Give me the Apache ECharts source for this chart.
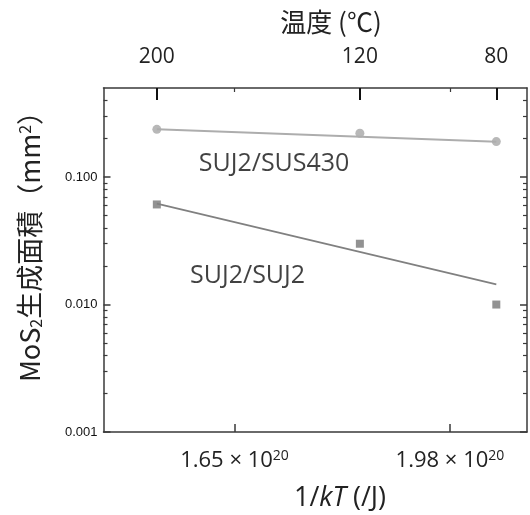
<!DOCTYPE html>
<html>
<head>
<meta charset="utf-8">
<script src="https://cdn.jsdelivr.net/npm/echarts@6/dist/echarts.min.js"></script>
<style>
html,body{margin:0;padding:0;background:#fff;}
#c{width:530px;height:515px;}
</style>
</head>
<body>
<div id="c"></div>
<script>
// 1/kT values (units of 1e20 /J) for the measured temperatures
const invKT = [1.531, 1.842, 2.051];
const tempLabels = ['200', '120', '80'];
// MoS2 area (mm^2)
const sus430 = [0.237, 0.221, 0.190];
const suj2 = [0.061, 0.030, 0.0100];
// fitted lines (end points)
const fitX = [1.531, 2.051];
const fitSus430 = [0.237, 0.189];
const fitSuj2 = [0.0619, 0.0144];
// axis ticks
const xTicks = [1.65, 1.98];
const yMajor = [0.001, 0.01, 0.1];
const yMinor = [0.002,0.003,0.004,0.005,0.006,0.007,0.008,0.009,
                0.02,0.03,0.04,0.05,0.06,0.07,0.08,0.09,
                0.2,0.3,0.4];
// annotations
const annoText = ['SUJ2/SUS430', 'SUJ2/SUJ2'];
const annoX = [1.7106, 1.670];
const annoY = [0.126, 0.0168];

const FONT = '"Open Sans", "Noto Sans", sans-serif';
const CJK = '"Noto Sans CJK JP", "Noto Sans", sans-serif';
const AX = '#3a3a3a';

const chart = echarts.init(document.getElementById('c'), null, {renderer: 'canvas', width: 530, height: 515});

const xMin = 1.4493, xMax = 2.098;
const yMin = 0.001, yMax = 0.5;
const frameLine = {show: true, onZero: false, lineStyle: {color: AX, width: 1.5}};

const logAxisBase = {type: 'log', logBase: 10, min: yMin, max: yMax, splitLine: {show: false}, scale: true};

const option = {
  animation: false,
  backgroundColor: '#fff',
  grid: {left: 103.5, top: 88, width: 423.5, height: 344, containLabel: false},
  graphic: [
    {
      type: 'text', x: 331, y: 22,
      style: {text: '温度 (℃)', fontFamily: CJK, fontSize: 26, fill: '#222', align: 'center', verticalAlign: 'middle'}
    },
    {
      type: 'text', x: 340, y: 498,
      style: {
        text: '{t|1/}{i|kT}{t| (/J)}', align: 'center', verticalAlign: 'middle',
        rich: {
          t: {fontFamily: FONT, fontSize: 27, fill: '#222'},
          i: {fontFamily: FONT, fontSize: 27, fill: '#222', fontStyle: 'italic'}
        }
      }
    },
    {
      type: 'text', x: 30, y: 240, rotation: Math.PI / 2,
      style: {
        text: '{t|MoS}{sub|2}{t|生成面積（mm}{sup|2}{t|）}', align: 'center', verticalAlign: 'middle',
        rich: {
          t: {fontFamily: CJK, fontSize: 27, fill: '#222'},
          sub: {fontFamily: CJK, fontSize: 16, fill: '#222', verticalAlign: 'bottom', padding: [10,0,0,0]},
          sup: {fontFamily: CJK, fontSize: 16, fill: '#222', verticalAlign: 'top', padding: [0,0,10,0]}
        }
      }
    }
  ],
  xAxis: [
    {
      type: 'value', position: 'bottom', min: xMin, max: xMax,
      axisLine: frameLine,
      splitLine: {show: false},
      axisTick: {show: true, inside: true, length: 8, customValues: xTicks, lineStyle: {color: AX, width: 1.5}},
      axisLabel: {
        customValues: xTicks, margin: 17,
        formatter: v => '{n|' + v.toFixed(2) + ' × 10}{sup|20}',
        rich: {
          n: {fontFamily: FONT, fontSize: 22, color: '#222'},
          sup: {fontFamily: FONT, fontSize: 14, color: '#222', verticalAlign: 'top', padding: [0,0,9,0]}
        }
      }
    },
    {
      type: 'value', position: 'top', min: xMin, max: xMax,
      axisLine: frameLine,
      splitLine: {show: false},
      axisTick: {show: true, inside: true, length: 12, customValues: invKT, lineStyle: {color: '#111', width: 2}},
      axisLabel: {
        customValues: invKT, margin: 20,
        fontFamily: FONT, fontSize: 21, color: '#222',
        formatter: v => {
          let bi = 0, bd = Infinity;
          invKT.forEach((x, i) => { const d = Math.abs(x - v); if (d < bd) { bd = d; bi = i; } });
          return tempLabels[bi];
        }
      }
    },
    {
      type: 'value', position: 'top', min: xMin, max: xMax,
      axisLine: {show: false}, splitLine: {show: false},
      axisTick: {show: true, inside: true, length: 4, customValues: xTicks, lineStyle: {color: AX, width: 1.2}},
      axisLabel: {show: false}
    }
  ],
  yAxis: [
    Object.assign({}, logAxisBase, {
      position: 'left',
      axisLine: frameLine,
      axisTick: {show: true, inside: true, length: 7, customValues: yMajor, lineStyle: {color: AX, width: 1.5}},
      axisLabel: {
        customValues: yMajor, margin: 6,
        fontFamily: '"Liberation Sans Narrow", "Liberation Sans", sans-serif', fontSize: 13, color: '#111',
        formatter: v => v.toFixed(3)
      }
    }),
    Object.assign({}, logAxisBase, {
      position: 'left',
      axisLine: {show: false},
      axisTick: {show: true, inside: true, length: 4, customValues: yMinor, lineStyle: {color: AX, width: 1.2}},
      axisLabel: {show: false}
    }),
    Object.assign({}, logAxisBase, {
      position: 'right',
      axisLine: frameLine,
      axisTick: {show: true, inside: true, length: 7, customValues: yMajor, lineStyle: {color: AX, width: 1.5}},
      axisLabel: {show: false}
    }),
    Object.assign({}, logAxisBase, {
      position: 'right',
      axisLine: {show: false},
      axisTick: {show: true, inside: true, length: 4, customValues: yMinor, lineStyle: {color: AX, width: 1.2}},
      axisLabel: {show: false}
    })
  ],
  series: [
    {
      type: 'line', xAxisIndex: 0, yAxisIndex: 0,
      data: fitX.map((x, i) => [x, fitSus430[i]]),
      showSymbol: false, symbol: 'none',
      lineStyle: {color: '#adadad', width: 2}, silent: true
    },
    {
      type: 'line', xAxisIndex: 0, yAxisIndex: 0,
      data: fitX.map((x, i) => [x, fitSuj2[i]]),
      showSymbol: false, symbol: 'none',
      lineStyle: {color: '#808080', width: 1.7}, silent: true
    },
    {
      type: 'scatter', xAxisIndex: 0, yAxisIndex: 0,
      data: invKT.map((x, i) => [x, sus430[i]]),
      symbol: 'circle', symbolSize: 9,
      itemStyle: {color: '#a6a6a6'}
    },
    {
      type: 'scatter', xAxisIndex: 0, yAxisIndex: 0,
      data: invKT.map((x, i) => [x, suj2[i]]),
      symbol: 'rect', symbolSize: 8,
      itemStyle: {color: '#777777'}
    },
    {
      type: 'scatter', xAxisIndex: 0, yAxisIndex: 0,
      data: annoX.map((x, i) => ({value: [x, annoY[i]], name: annoText[i]})),
      symbolSize: 0, silent: true,
      label: {show: true, position: 'inside', formatter: p => p.name,
              fontFamily: FONT, fontSize: 25, color: '#111'}
    }
  ]
};
chart.setOption(option);
</script>
</body>
</html>
